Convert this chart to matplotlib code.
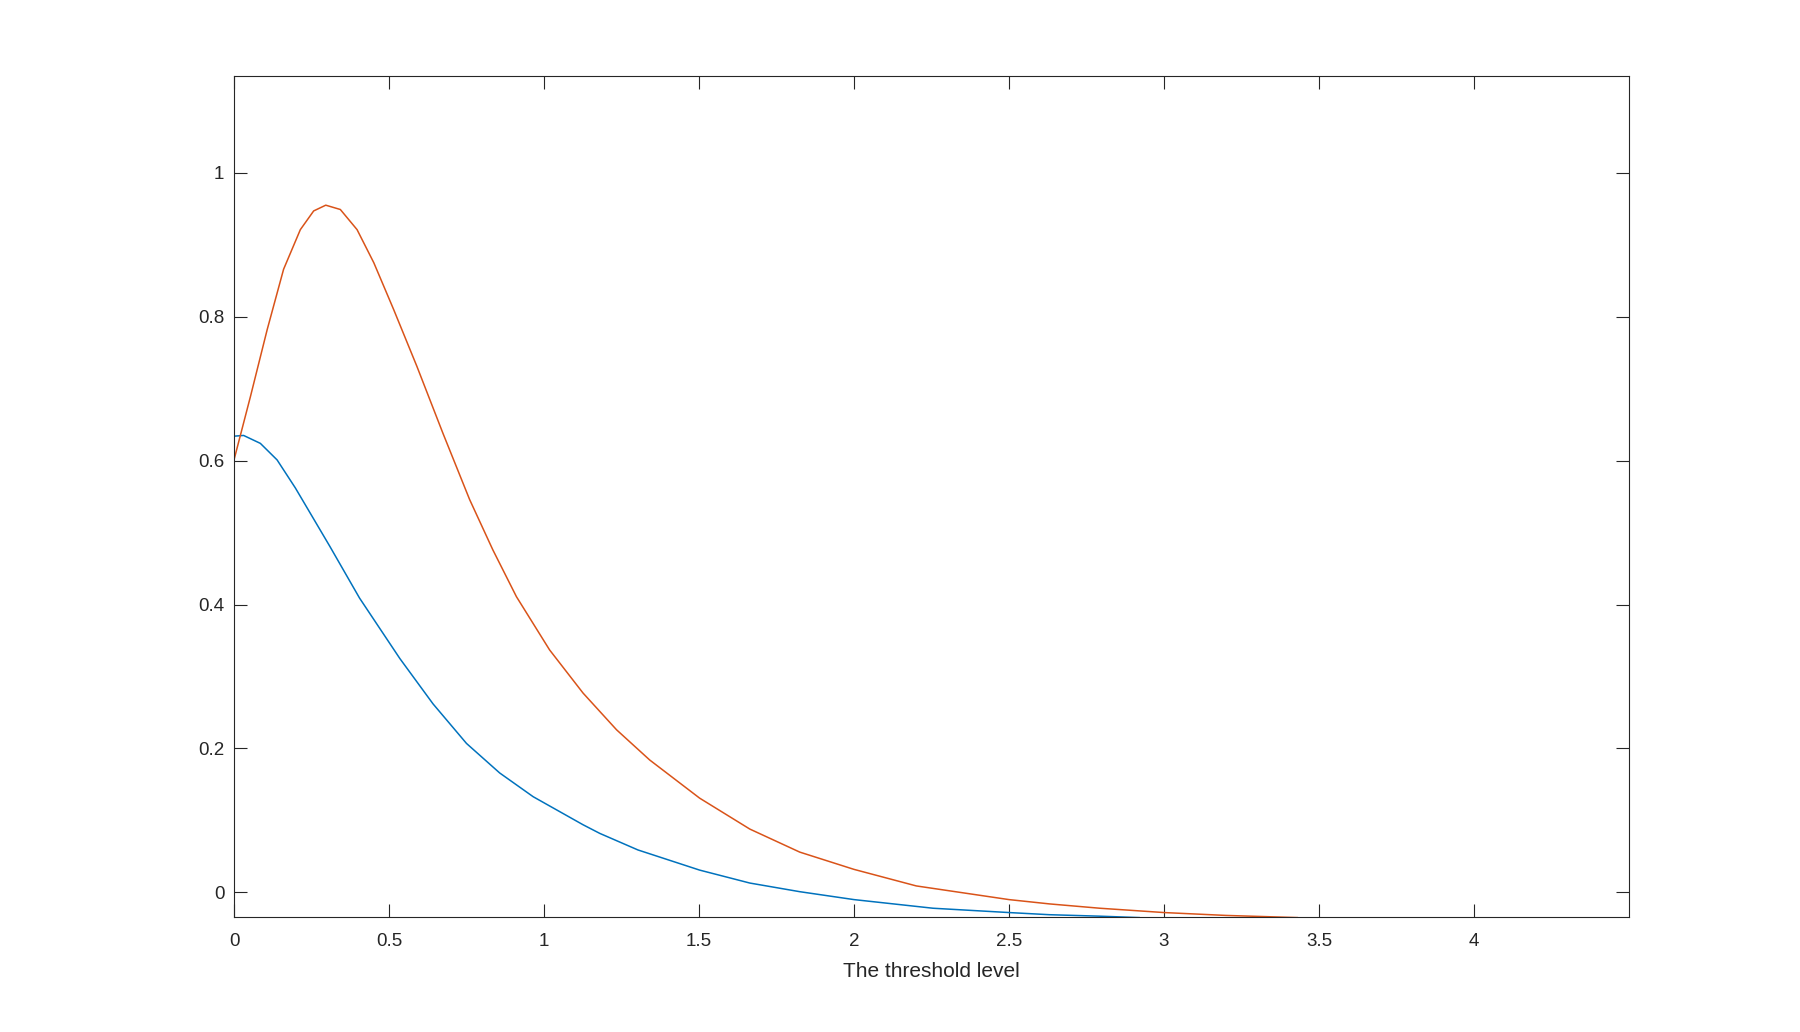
import matplotlib
matplotlib.use('Agg')
import matplotlib.pyplot as plt

# values
x_orange = [0, 0.053, 0.107, 0.16, 0.214, 0.257, 0.296, 0.343, 0.397, 0.451, 0.515, 0.59,
            0.674, 0.76, 0.835, 0.911, 1.018, 1.126, 1.234, 1.341, 1.502, 1.664, 1.825,
            2.0, 2.201, 2.5, 2.631, 2.793, 3.0, 3.2, 3.43]
y_orange = [0.601, 0.689, 0.782, 0.866, 0.921, 0.947, 0.955, 0.949, 0.921, 0.875, 0.810, 0.731,
            0.638, 0.546, 0.476, 0.411, 0.337, 0.277, 0.226, 0.184, 0.131, 0.088, 0.056,
            0.032, 0.009, -0.010, -0.016, -0.022, -0.028, -0.032, -0.035]

x_blue = [0, 0.031, 0.085, 0.139, 0.198, 0.309, 0.405, 0.535, 0.642, 0.75, 0.857, 0.965,
          1.126, 1.18, 1.303, 1.502, 1.664, 1.825, 2.0, 2.255, 2.5, 2.631, 2.79, 2.92]
y_blue = [0.634, 0.635, 0.624, 0.601, 0.562, 0.481, 0.409, 0.325, 0.262, 0.207, 0.166, 0.133,
          0.094, 0.082, 0.059, 0.031, 0.013, 0.001, -0.010, -0.022, -0.028, -0.031, -0.033, -0.035]

x_ticks = [0, 0.5, 1, 1.5, 2, 2.5, 3, 3.5, 4]
x_ticklabels = ['0', '0.5', '1', '1.5', '2', '2.5', '3', '3.5', '4']
y_ticks = [0, 0.2, 0.4, 0.6, 0.8, 1]
y_ticklabels = ['0', '0.2', '0.4', '0.6', '0.8', '1']

plt.rcParams['font.family'] = ['Liberation Sans', 'DejaVu Sans']
dark = '#262626'

fig = plt.figure(figsize=(18, 10.32), dpi=100)
ax = fig.add_axes([0.13, 0.111, 0.775, 0.815])

ax.plot(x_blue, y_blue, color='#0072BD', lw=1.1, solid_joinstyle='round')
ax.plot(x_orange, y_orange, color='#D95319', lw=1.1, solid_joinstyle='round')

ax.set_xlim(0, 4.5)
ax.set_ylim(-0.0348, 1.134)
ax.set_xticks(x_ticks)
ax.set_xticklabels(x_ticklabels)
ax.set_yticks(y_ticks)
ax.set_yticklabels(y_ticklabels)
ax.tick_params(direction='in', length=9.4, width=0.8, color=dark, labelcolor=dark,
               labelsize=13.5, top=True, right=True)
ax.tick_params(axis='x', pad=11)
ax.tick_params(axis='y', pad=7)
for s in ax.spines.values():
    s.set_color(dark)
    s.set_linewidth(0.8)

ax.set_xlabel('The threshold level', fontsize=15, color=dark, labelpad=9)

fig.savefig('out.png', dpi=100, facecolor='white')
